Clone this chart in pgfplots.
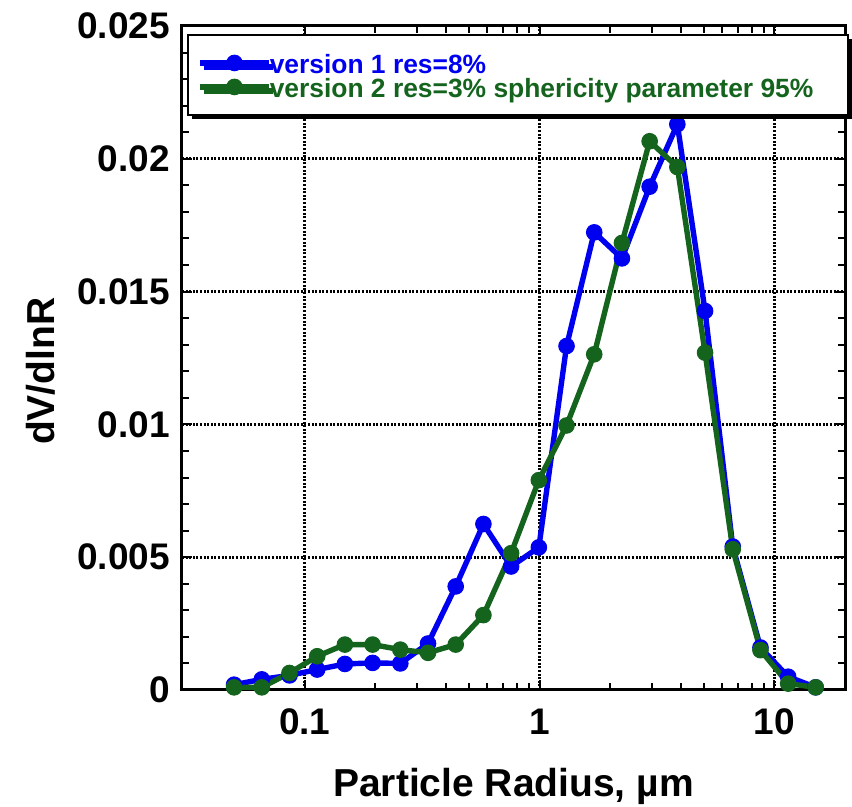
\documentclass[border=0pt]{standalone}
\usepackage{fontspec}
\setmainfont{Liberation Sans}
\usepackage{pgfplots}
\pgfplotsset{compat=1.18}
\usetikzlibrary{shadows}
\definecolor{vblue}{RGB}{0,0,240}
\definecolor{vgreen}{RGB}{20,100,30}
\begin{document}
\begin{tikzpicture}
\path[use as bounding box] (-91pt,-58.5pt) rectangle (335pt,345pt);
\begin{axis}[
  scale only axis, width=331.5pt, height=332pt,
  xmode=log, xmin=0.03, xmax=20,
  ymin=0, ymax=0.025,
  xtick={0.1,1,10}, xticklabels={0.1,1,10},
  ytick={0,0.005,0.01,0.015,0.02,0.025},
  yticklabels={0,0.005,0.01,0.015,0.02,0.025},
  minor y tick num=4,
  scaled y ticks=false,
  /pgf/number format/assume math mode=true,
  axis line style={line width=1.5pt},
  every tick/.style={black, line width=1pt},
  major tick length=5pt, minor tick length=3.5pt,
  grid=major,
  major grid style={dash pattern=on 1pt off 0.8pt, black, line width=1.4pt},
  tick label style={font=\bfseries\fontsize{18.5}{20}\selectfont},
  yticklabel style={xshift=-2.5pt},
  xticklabel style={yshift=-6pt},
  xlabel={Particle Radius, µm},
  ylabel={dV/dlnR},
  label style={font=\bfseries\fontsize{19.5}{22}\selectfont},
  xlabel style={at={(axis description cs:0.5,-0.145)}, anchor=center},
  ylabel style={at={(axis description cs:-0.213,0.48)}, anchor=center},
  legend style={at={(axis description cs:0.007,0.988)}, anchor=north west,
    font=\bfseries\fontsize{13.2}{15}\selectfont, draw=black, line width=1pt,
    fill=white, drop shadow={shadow xshift=2pt, shadow yshift=-2pt, fill=black, opacity=1},
    inner xsep=5pt, inner ysep=7.5pt, row sep=-1pt,
    nodes={inner xsep=1.5pt, inner ysep=0pt, text height=12pt, text depth=1pt}},
  legend cell align=left,
  legend image code/.code={\path (0cm,0cm) -- (1.12cm,0cm);
    \draw[#1, overlay, mark repeat=2, mark phase=2] plot coordinates {(0cm,0cm) (0.6cm,0cm) (1.2cm,0cm)};},
]
\addplot[vblue, line width=2.7pt, mark=*, mark size=3.9pt, mark options={solid, line width=0.5pt}] coordinates {
(0.05,0.0002) (0.06561,0.0004) (0.08609,0.00055) (0.11297,0.00077) (0.14824,0.00098)
(0.19452,0.00102) (0.25525,0.001) (0.33494,0.00175) (0.43951,0.0039) (0.57673,0.00625)
(0.75679,0.00465) (0.99307,0.00537) (1.3031,0.01295) (1.7099,0.01723) (2.2438,0.01625)
(2.9443,0.01895) (3.8636,0.0213) (5.0698,0.01427) (6.6526,0.0054) (8.7296,0.0016)
(11.455,0.0005) (15.0,0.0001)};
\addlegendentry{\color{vblue}version 1 res=8\%}
\addplot[vgreen, line width=2.7pt, mark=*, mark size=3.9pt, mark options={solid, line width=0.5pt}] coordinates {
(0.05,0.0001) (0.06561,0.0001) (0.08609,0.00064) (0.11297,0.00127) (0.14824,0.00171)
(0.19452,0.00171) (0.25525,0.00152) (0.33494,0.0014) (0.43951,0.00171) (0.57673,0.00282)
(0.75679,0.00515) (0.99307,0.0079) (1.3031,0.00996) (1.7099,0.01264) (2.2438,0.01683)
(2.9443,0.02066) (3.8636,0.01969) (5.0698,0.0127) (6.6526,0.0053) (8.7296,0.0015)
(11.455,0.00024) (15.0,0.0001)};
\addlegendentry{\color{vgreen}version 2 res=3\% sphericity parameter 95\%\hspace*{11pt}}
\end{axis}
\end{tikzpicture}
\end{document}
